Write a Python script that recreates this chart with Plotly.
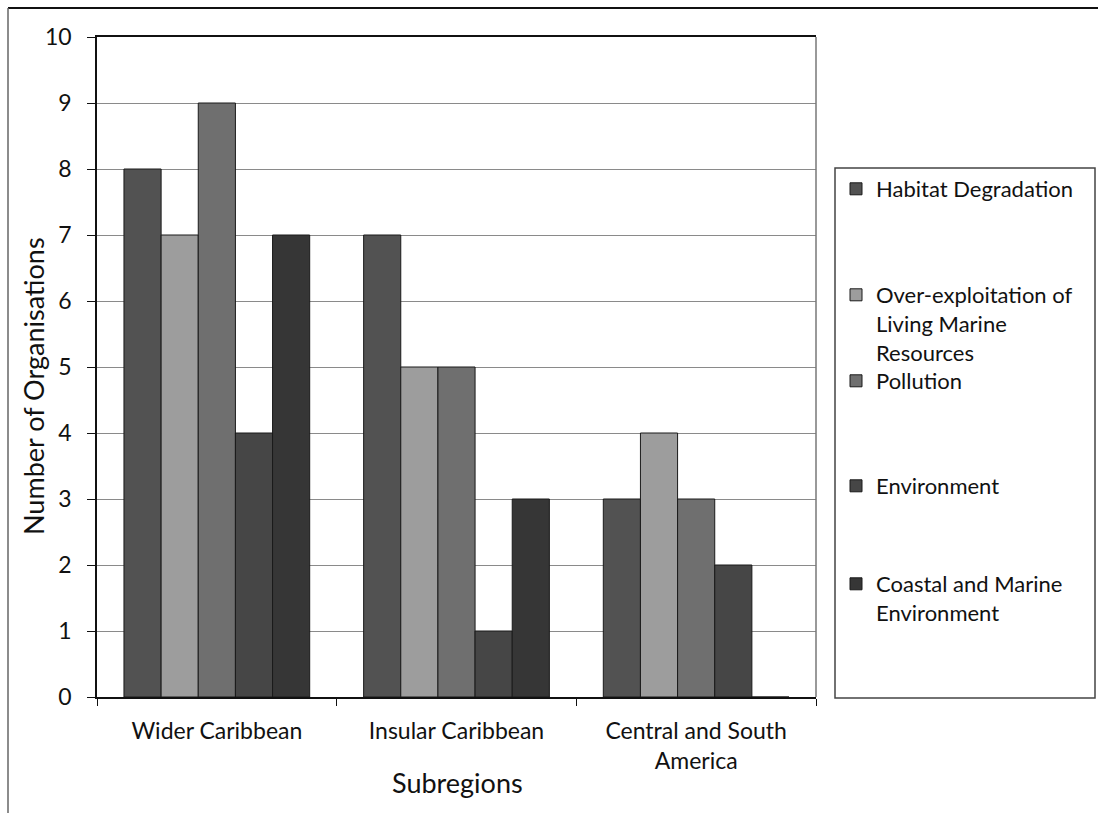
import plotly.graph_objects as go

# Subregions on the x axis
subregions = ["Wider Caribbean", "Insular Caribbean", "Central and South<br>America"]

# Number of organisations per issue, one list per series
habitat_degradation = [8, 7, 3]
over_exploitation = [7, 5, 4]
pollution = [9, 5, 3]
environment = [4, 1, 2]
coastal_marine = [7, 3, 0]

series_names = [
    "Habitat Degradation",
    "Over-exploitation of<br>Living Marine<br>Resources",
    "Pollution",
    "Environment",
    "Coastal and Marine<br>Environment",
]
series_values = [habitat_degradation, over_exploitation, pollution, environment, coastal_marine]
series_colors = ["#525252", "#9d9d9d", "#6f6f6f", "#464646", "#363636"]

FONT = "Lato"
W, H = 1098, 813
L, R, T, B = 97, 282, 37, 116
PW, PH = W - L - R, H - T - B


def px_x(x):
    return (x - L) / PW


def px_y(y):
    return (H - B - y) / PH


# top of each legend entry
legend_tops = [168, 274, 360, 465, 563]

fig = go.Figure()
for i, (name, vals, col) in enumerate(zip(series_names, series_values, series_colors)):
    lg = "legend" if i == 0 else f"legend{i + 1}"
    fig.add_trace(go.Bar(
        x=subregions, y=vals, name=name,
        marker=dict(color=col, line=dict(color="#1a1a1a", width=1)),
        legend=lg,
    ))

legend_style = dict(
    xanchor="left", yanchor="top", x=px_x(836),
    bgcolor="rgba(0,0,0,0)", borderwidth=0,
    font=dict(family=FONT, size=22, color="#111"),
    valign="top", itemclick=False, itemdoubleclick=False,
)
layout_legends = {}
for i, ytop in enumerate(legend_tops):
    key = "legend" if i == 0 else f"legend{i + 1}"
    layout_legends[key] = dict(legend_style, y=px_y(ytop))

fig.update_layout(
    width=W, height=H,
    margin=dict(l=L, r=R, t=T, b=B, pad=0),
    paper_bgcolor="white", plot_bgcolor="white",
    barmode="group", bargap=0.225, bargroupgap=0,
    font=dict(family=FONT, size=23, color="#111"),
    showlegend=True,
    xaxis=dict(
        showline=True, linecolor="#111", linewidth=1.5, mirror=True,
        ticks="outside", ticklen=7, tickcolor="#111", tickson="boundaries",
        ticklabelstandoff=13,
        tickfont=dict(family=FONT, size=23, color="#111"),
        showgrid=False,
    ),
    yaxis=dict(
        range=[0, 10], dtick=1, tick0=0,
        showline=True, linecolor="#111", linewidth=1.5,
        ticks="outside", ticklen=8, tickcolor="#111",
        ticklabelstandoff=11,
        tickfont=dict(family=FONT, size=23, color="#111"),
        showgrid=True, gridcolor="#8a8a8a", gridwidth=1,
        zeroline=False,
    ),
    annotations=[
        dict(text="Number of Organisations", textangle=-90, showarrow=False,
             xref="paper", yref="paper", x=px_x(33), y=px_y(386),
             xanchor="center", yanchor="middle",
             font=dict(family=FONT, size=27, color="#111")),
        dict(text="Subregions", showarrow=False,
             xref="paper", yref="paper", x=px_x(457), y=px_y(782),
             xanchor="center", yanchor="middle",
             font=dict(family=FONT, size=27, color="#111")),
    ],
    shapes=[
        # right edge of the plot area
        dict(type="line", xref="paper", yref="paper", x0=1, x1=1, y0=0, y1=1,
             line=dict(color="#777", width=1.5)),
        # legend frame
        dict(type="rect", xref="paper", yref="paper",
             x0=px_x(835), x1=px_x(1095), y0=px_y(698), y1=px_y(168),
             line=dict(color="#444", width=1.5), fillcolor="rgba(0,0,0,0)"),
        # chart frame (top and left edges)
        dict(type="line", xref="paper", yref="paper",
             x0=px_x(8), x1=px_x(1098), y0=px_y(8), y1=px_y(8),
             line=dict(color="#111", width=2)),
        dict(type="line", xref="paper", yref="paper",
             x0=px_x(8), x1=px_x(8), y0=px_y(8), y1=px_y(813),
             line=dict(color="#666", width=1.5)),
    ],
    **layout_legends,
)

fig.write_html("out.html")
